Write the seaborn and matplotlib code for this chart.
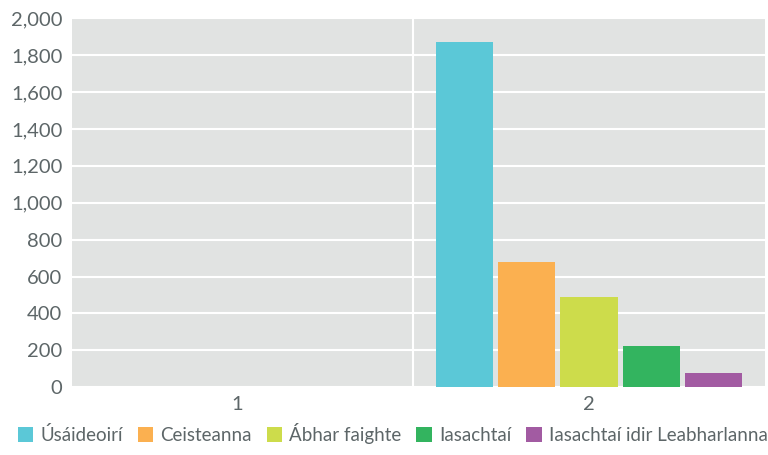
import matplotlib
matplotlib.use("Agg")
import matplotlib.pyplot as plt
import seaborn as sns
import pandas as pd
from matplotlib.ticker import FuncFormatter

categories = ["1", "2"]
series = ["Úsáideoirí", "Ceisteanna", "Ábhar faighte", "Iasachtaí", "Iasachtaí idir Leabharlanna"]
values_cat1 = [0, 0, 0, 0, 0]
values_cat2 = [1870, 677, 488, 222, 76]
colors = ["#5BC8D7", "#FBB050", "#CDDC4B", "#33B45F", "#A25BA2"]

rows = []
for s, v1, v2 in zip(series, values_cat1, values_cat2):
    rows.append({"cat": categories[0], "series": s, "value": v1})
    rows.append({"cat": categories[1], "series": s, "value": v2})
df = pd.DataFrame(rows)

sns.set_theme(style="white")
plt.rcParams['font.family'] = ['Lato', 'DejaVu Sans']
text_color = "#5d6668"

fig = plt.figure(figsize=(7.68, 4.55), dpi=100)
ax = fig.add_axes([0.094, 0.149, 0.902, 0.811])
ax.set_facecolor("#E1E3E2")

sns.barplot(data=df, x="cat", y="value", hue="series", order=categories,
            hue_order=series, palette=colors, width=0.885, gap=0.08,
            saturation=1, ax=ax, legend=True, zorder=3, linewidth=0, edgecolor="none")

ax.set_ylim(0, 2000)
ax.set_yticks(range(0, 2001, 200))
ax.yaxis.set_major_formatter(FuncFormatter(lambda v, p: f"{int(v):,}"))
ax.set_xlim(-0.47, 1.5)
ax.grid(axis="y", color="white", linewidth=1.5, zorder=1)
ax.set_axisbelow(True)
ax.axvline(0.5, color="white", linewidth=1.5, zorder=2)
for sp in ax.spines.values():
    sp.set_visible(False)
ax.set_xlabel("")
ax.set_ylabel("")
ax.tick_params(axis="both", length=0, labelsize=14.5, colors=text_color, pad=6)
ax.tick_params(axis="y", pad=7)

handles, labels = ax.get_legend_handles_labels()
ax.get_legend().remove()
leg = fig.legend(handles, labels, loc="lower center", bbox_to_anchor=(0.511, -0.012),
                 ncol=5, frameon=False, fontsize=13.5, handlelength=0.85, handleheight=0.85,
                 handletextpad=0.35, columnspacing=0.8)
for t in leg.get_texts():
    t.set_color(text_color)

fig.savefig("out.png", dpi=100)
